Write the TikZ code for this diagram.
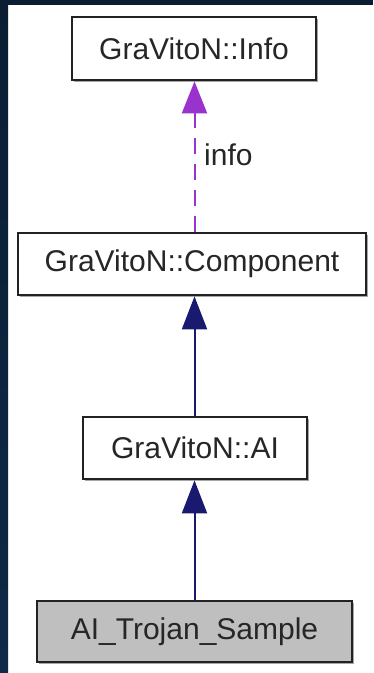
\documentclass[tikz,border=0pt]{standalone}
\usepackage{fontspec}
\setmainfont{Liberation Sans}
\usetikzlibrary{arrows.meta,shadows}
\definecolor{frameblue}{HTML}{0B1D33}
\definecolor{frameblue2}{HTML}{0E2A47}
\definecolor{edgeblue}{HTML}{191970}
\definecolor{edgepurple}{HTML}{9A32CD}
\definecolor{boxline}{HTML}{222222}
\definecolor{leafgray}{HTML}{BFBFBF}
\tikzset{
  classbox/.style={draw=boxline, line width=2.7pt, fill=white, rectangle,
    inner sep=0pt, text=black!85,
    font=\fontsize{30}{36}\selectfont,
    drop shadow={shadow xshift=1.8pt, shadow yshift=-1.8pt, fill=black, opacity=0.35}},
  inherit/.style={draw=edgeblue, line width=2pt,
    -{Triangle[length=33pt,width=25pt]}},
  usage/.style={draw=edgepurple, line width=2pt, dash pattern=on 16pt off 10pt,
    -{Triangle[length=32pt,width=25pt]}},
  edgelabel/.style={font=\fontsize{30}{36}\selectfont, text=black!85, inner sep=0pt}
}
\begin{document}
\begin{tikzpicture}[x=1pt,y=-1pt]
  \useasboundingbox (0,0) rectangle (373,673);
  % page frame: dark strips along the top and left edges
  \fill[white] (0,0) rectangle (373,673);
  \shade[top color=frameblue, bottom color=frameblue2] (0,0) rectangle (8,673);
  \fill[frameblue] (0,0) rectangle (373,5);

  % classes
  \node[classbox, minimum width=244pt, minimum height=63pt] (info) at (194,48.5) {GraVitoN::Info};
  \node[classbox, minimum width=348pt, minimum height=62pt] (comp) at (192,264) {GraVitoN::Component};
  \node[classbox, minimum width=224pt, minimum height=62pt] (ai) at (195,448) {GraVitoN::AI};
  \node[classbox, fill=leafgray, minimum width=315pt, minimum height=61pt] (trojan) at (194.5,631.5) {AI\_Trojan\_Sample};

  % relations
  \coordinate (x) at (194.5,0);
  \draw[usage] (comp.north -| x) -- (info.south -| x);
  \node[edgelabel, anchor=west] (infolbl) at (204,155) {info};
  \draw[inherit] (ai.north -| x) -- (comp.south -| x);
  \draw[inherit] (trojan.north -| x) -- (ai.south -| x);
\end{tikzpicture}
\end{document}
